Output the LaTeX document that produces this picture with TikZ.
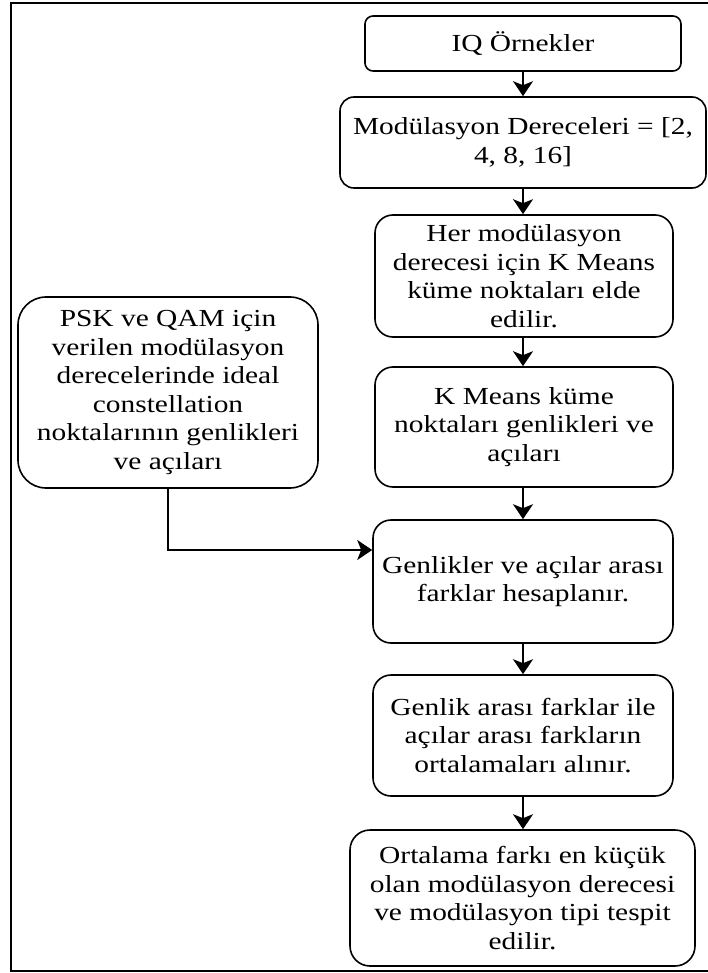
\documentclass[tikz,border=0pt]{standalone}
\usepackage{fontspec}
\setmainfont{Liberation Serif}[FakeStretch=1.2]
\usetikzlibrary{arrows.meta}

\tikzset{
  box/.style={draw=black, line width=1.6pt, fill=white, align=center,
    inner sep=0pt, font=\fontsize{24.5}{28.5}\selectfont},
  flow/.style={draw=black, line width=1.6pt,
    -{Stealth[length=15pt, width=20pt, inset=4pt]}}
}

\begin{document}
\begin{tikzpicture}[x=1pt, y=-1pt]
  \useasboundingbox (0,0) rectangle (708,973);
  \clip (0,0) rectangle (708,973);

  % outer frame
  \draw[line width=1.6pt] (11,3) rectangle (720,971);

  % main column
  \node[box, rounded corners=8pt, minimum width=316pt, minimum height=55pt]
    (iq) at (523,43.5) {IQ Örnekler};
  \node[box, rounded corners=14pt, minimum width=366pt, minimum height=91pt]
    (mod) at (523,142.5) {Modülasyon Dereceleri = [2,\\4, 8, 16]};
  \node[box, rounded corners=18pt, minimum width=298pt, minimum height=122pt]
    (her) at (524,276) {Her modülasyon\\derecesi için K Means\\küme noktaları elde\\edilir.};
  \node[box, rounded corners=18pt, minimum width=298pt, minimum height=120pt]
    (km) at (524,427) {K Means küme\\noktaları genlikleri ve\\açıları};
  \node[box, rounded corners=18pt, minimum width=300pt, minimum height=123pt]
    (gen) at (523,581.5) {Genlikler ve açılar arası\\farklar hesaplanır.};
  \node[box, rounded corners=18pt, minimum width=300pt, minimum height=121pt]
    (ort) at (523,735.5) {Genlik arası farklar ile\\açılar arası farkların\\ortalamaları alınır.};
  \node[box, rounded corners=20pt, minimum width=345pt, minimum height=136pt]
    (son) at (522.5,898) {Ortalama farkı en küçük\\olan modülasyon derecesi\\ve modülasyon tipi tespit\\edilir.};

  % side input
  \node[box, rounded corners=28pt, minimum width=300pt, minimum height=191pt]
    (psk) at (168,392.5) {PSK ve QAM için\\verilen modülasyon\\derecelerinde ideal\\constellation\\noktalarının genlikleri\\ve açıları};

  % connectors
  \draw[flow] (iq.south) -- (iq.south |- mod.north);
  \draw[flow] (mod.south) -- (mod.south |- her.north);
  \draw[flow] (her.south -| mod.south) -- (mod.south |- km.north);
  \draw[flow] (km.south -| mod.south) -- (mod.south |- gen.north);
  \draw[flow] (gen.south) -- (gen.south |- ort.north);
  \draw[flow] (ort.south) -- (ort.south |- son.north);
  \draw[flow] (psk.south) |- ([yshift=31.5pt]gen.west);
\end{tikzpicture}
\end{document}
